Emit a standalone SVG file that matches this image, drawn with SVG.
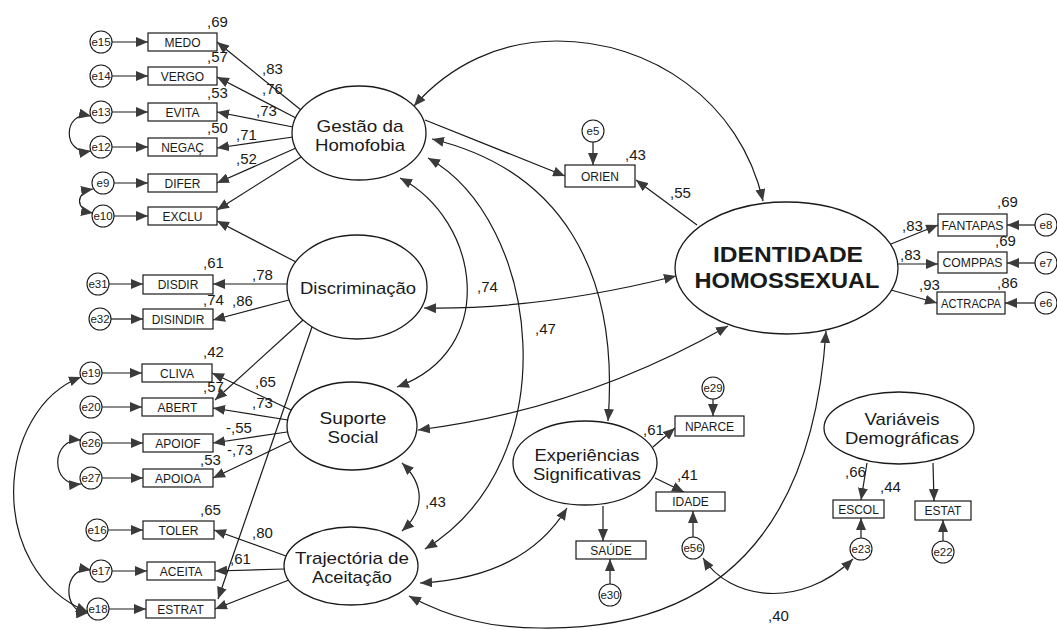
<svg xmlns="http://www.w3.org/2000/svg" width="1057" height="630" viewBox="0 0 1057 630">
<defs>
<marker id="ah" viewBox="0 0 12 10" refX="12" refY="5" markerWidth="12" markerHeight="10" markerUnits="userSpaceOnUse" orient="auto-start-reverse"><path d="M0,0 L12,5 L0,10 z" fill="#3a3a3a"/></marker>
<style>
.c{fill:none;stroke:#1a1a1a;stroke-width:1.2}
.s{marker-end:url(#ah)}
.d{marker-start:url(#ah);marker-end:url(#ah)}
.bx{fill:#fff;stroke:#1a1a1a;stroke-width:1.2}
.el{fill:#fff;stroke:#1a1a1a;stroke-width:1.3}
.er{fill:#fff;stroke:#1a1a1a;stroke-width:1.1}
text{font-family:"Liberation Sans",Arial,sans-serif;fill:#1a1a1a}
.bt{font-size:12px;text-anchor:middle}
.et{font-size:11.5px;text-anchor:middle}
.lt{font-size:17px;text-anchor:middle}
.id{font-size:22.5px;font-weight:bold;text-anchor:middle}
.n{font-size:15px}
</style>
</defs>
<rect width="1057" height="630" fill="#fff"/>

<g id="connectors">
<!-- Gestão indicators -->
<path class="c s" d="M301 110 L217 42"/>
<path class="c s" d="M296 118 L217 77"/>
<path class="c s" d="M293 127 L217 112"/>
<path class="c s" d="M293 137 L217 148"/>
<path class="c s" d="M296 148 L217 183"/>
<path class="c s" d="M301 157 L217 210"/>
<!-- Discriminação -->
<path class="c s" d="M287 284 L213 284"/>
<path class="c s" d="M289 300 L213 320"/>
<path class="c s" d="M296 262 L217 221"/>
<path class="c s" d="M303 320 L215 400"/>
<path class="c s" d="M312 327 L218 599"/>
<!-- Suporte -->
<path class="c s" d="M291 410 L212 373"/>
<path class="c s" d="M288 420 L213 408"/>
<path class="c s" d="M287 432 L213 443"/>
<path class="c s" d="M291 441 L213 478"/>
<!-- Trajectória -->
<path class="c s" d="M286 556 L214 530"/>
<path class="c s" d="M284 569 L215 571"/>
<path class="c s" d="M289 580 L215 609"/>
<!-- error arrows left -->
<path class="c s" d="M112 42 L148 42"/>
<path class="c s" d="M112 76 L148 76"/>
<path class="c s" d="M112 112 L148 112"/>
<path class="c s" d="M112 147 L148 147"/>
<path class="c s" d="M114 183 L148 183"/>
<path class="c s" d="M114 216 L148 216"/>
<path class="c s" d="M109 284 L143 284"/>
<path class="c s" d="M111 319 L143 319"/>
<path class="c s" d="M102 373 L142 373"/>
<path class="c s" d="M102 407 L142 407"/>
<path class="c s" d="M102 443 L143 443"/>
<path class="c s" d="M102 478 L143 478"/>
<path class="c s" d="M108 530 L143 530"/>
<path class="c s" d="M112 571 L147 571"/>
<path class="c s" d="M109 609 L146 609"/>
<!-- error covariances left -->
<path class="c d" d="M91 116 C62 110 62 156 91 151"/>
<path class="c d" d="M93 189 C75 192 75 210 93 213"/>
<path class="c d" d="M81 440 C50 438 50 487 81 484"/>
<path class="c d" d="M91 570 C62 565 62 614 88 613"/>
<path class="c d" d="M81 377 C-5 410 -15 570 88 612"/>
<!-- ORIEN -->
<path class="c s" d="M425 120 L565 176"/>
<path class="c s" d="M697 225 L636 180"/>
<path class="c s" d="M593 142 L593 165"/>
<!-- latent covariances -->
<path class="c d" d="M414 106 C450 65 500 41 557 41 C650 41 740 100 763 201"/>
<path class="c d" d="M432 139 C560 170 620 270 608 421"/>
<path class="c d" d="M428 158 C540 220 570 460 425 549"/>
<path class="c d" d="M400 178 C480 220 500 350 397 387"/>
<path class="c d" d="M424 308 Q540 310 676 276"/>
<path class="c d" d="M418 430 Q580 410 728 326"/>
<path class="c d" d="M402 463 C425 485 425 510 402 531"/>
<path class="c d" d="M420 583 C480 580 535 560 567 508"/>
<path class="c d" d="M409 596 C450 618 490 628 540 628 C680 630 810 570 826 331"/>
<path class="c d" d="M703 558 C730 600 800 610 853 559"/>
<!-- IDENTIDADE indicators -->
<path class="c s" d="M891 244 L938 225"/>
<path class="c s" d="M898 264 L938 264"/>
<path class="c s" d="M891 290 L937 303"/>
<path class="c s" d="M1035 225 L1007 225"/>
<path class="c s" d="M1035 263 L1007 263"/>
<path class="c s" d="M1035 303 L1005 303"/>
<!-- Experiências -->
<path class="c s" d="M653 447 L675 428"/>
<path class="c s" d="M655 478 L684 492"/>
<path class="c s" d="M603 506 L603 541"/>
<path class="c s" d="M610 584 L610 559"/>
<path class="c s" d="M713 399 L713 416"/>
<path class="c s" d="M693 537 L693 511"/>
<!-- Demográficas -->
<path class="c s" d="M867 463 L861 500"/>
<path class="c s" d="M933 463 L934 501"/>
<path class="c s" d="M861 538 L861 518"/>
<path class="c s" d="M943 541 L943 520"/>
</g>

<g id="latent-gestao"><ellipse class="el" cx="359" cy="133" rx="67" ry="47"/><text class="lt" x="360" y="132" textLength="87" lengthAdjust="spacingAndGlyphs">Gestão da</text><text class="lt" x="360" y="151" textLength="90" lengthAdjust="spacingAndGlyphs">Homofobia</text></g>
<g id="latent-discriminacao"><ellipse class="el" cx="357" cy="287" rx="70" ry="52"/><text class="lt" x="358" y="294" textLength="116" lengthAdjust="spacingAndGlyphs">Discriminação</text></g>
<g id="latent-suporte"><ellipse class="el" cx="352" cy="426" rx="65" ry="44"/><text class="lt" x="353" y="424" textLength="67" lengthAdjust="spacingAndGlyphs">Suporte</text><text class="lt" x="353" y="443" textLength="51" lengthAdjust="spacingAndGlyphs">Social</text></g>
<g id="latent-trajectoria"><ellipse class="el" cx="351" cy="566" rx="67" ry="39"/><text class="lt" x="352" y="564" textLength="114" lengthAdjust="spacingAndGlyphs">Trajectória de</text><text class="lt" x="352" y="583" textLength="80" lengthAdjust="spacingAndGlyphs">Aceitação</text></g>
<g id="latent-identidade"><ellipse class="el" cx="786.5" cy="268" rx="111.5" ry="66"/><text class="id" x="788" y="262" textLength="150" lengthAdjust="spacingAndGlyphs">IDENTIDADE</text><text class="id" x="787" y="288" textLength="185" lengthAdjust="spacingAndGlyphs">HOMOSSEXUAL</text></g>
<g id="latent-experiencias"><ellipse class="el" cx="585" cy="463" rx="72" ry="42"/><text class="lt" x="587" y="461" textLength="105" lengthAdjust="spacingAndGlyphs">Experiências</text><text class="lt" x="587" y="480" textLength="108" lengthAdjust="spacingAndGlyphs">Significativas</text></g>
<g id="latent-demograficas"><ellipse class="el" cx="899" cy="428" rx="75" ry="36"/><text class="lt" x="902" y="425" textLength="75" lengthAdjust="spacingAndGlyphs">Variáveis</text><text class="lt" x="902" y="444" textLength="114" lengthAdjust="spacingAndGlyphs">Demográficas</text></g>

<g id="obs-medo"><rect class="bx" x="148" y="33" width="69" height="18"/><text class="bt" x="182.5" y="46.5">MEDO</text></g>
<g id="obs-vergo"><rect class="bx" x="148" y="67" width="69" height="18"/><text class="bt" x="182.5" y="80.5">VERGO</text></g>
<g id="obs-evita"><rect class="bx" x="148" y="103" width="69" height="18"/><text class="bt" x="182.5" y="116.5">EVITA</text></g>
<g id="obs-negac"><rect class="bx" x="148" y="138" width="69" height="18"/><text class="bt" x="182.5" y="151.5">NEGAÇ</text></g>
<g id="obs-difer"><rect class="bx" x="148" y="174" width="69" height="18"/><text class="bt" x="182.5" y="187.5">DIFER</text></g>
<g id="obs-exclu"><rect class="bx" x="148" y="207" width="69" height="18"/><text class="bt" x="182.5" y="220.5">EXCLU</text></g>
<g id="obs-disdir"><rect class="bx" x="143" y="275" width="70" height="19"/><text class="bt" x="178" y="289">DISDIR</text></g>
<g id="obs-disindir"><rect class="bx" x="143" y="309" width="70" height="20"/><text class="bt" x="178" y="323.5">DISINDIR</text></g>
<g id="obs-cliva"><rect class="bx" x="142" y="364" width="70" height="18"/><text class="bt" x="177" y="377.5">CLIVA</text></g>
<g id="obs-abert"><rect class="bx" x="142" y="398" width="71" height="18"/><text class="bt" x="177.5" y="411.5">ABERT</text></g>
<g id="obs-apoiof"><rect class="bx" x="143" y="434" width="70" height="18"/><text class="bt" x="178" y="447.5">APOIOF</text></g>
<g id="obs-apoioa"><rect class="bx" x="143" y="469" width="70" height="18"/><text class="bt" x="178" y="482.5">APOIOA</text></g>
<g id="obs-toler"><rect class="bx" x="143" y="521" width="71" height="18"/><text class="bt" x="178.5" y="534.5">TOLER</text></g>
<g id="obs-aceita"><rect class="bx" x="147" y="562" width="68" height="18"/><text class="bt" x="181" y="575.5">ACEITA</text></g>
<g id="obs-estrat"><rect class="bx" x="146" y="600" width="69" height="18"/><text class="bt" x="180.5" y="613.5">ESTRAT</text></g>
<g id="obs-orien"><rect class="bx" x="565" y="165" width="70" height="22"/><text class="bt" x="600" y="180.5">ORIEN</text></g>
<g id="obs-fantapas"><rect class="bx" x="938" y="214" width="69" height="22"/><text class="bt" x="972.5" y="229.5" textLength="62" lengthAdjust="spacingAndGlyphs">FANTAPAS</text></g>
<g id="obs-comppas"><rect class="bx" x="938" y="252" width="69" height="21"/><text class="bt" x="972.5" y="267" textLength="60" lengthAdjust="spacingAndGlyphs">COMPPAS</text></g>
<g id="obs-actracpa"><rect class="bx" x="937" y="292" width="68" height="22"/><text class="bt" x="971" y="307.5" textLength="60" lengthAdjust="spacingAndGlyphs">ACTRACPA</text></g>
<g id="obs-nparce"><rect class="bx" x="675" y="416" width="69" height="20"/><text class="bt" x="709.5" y="430.5">NPARCE</text></g>
<g id="obs-idade"><rect class="bx" x="656" y="492" width="69" height="19"/><text class="bt" x="690.5" y="506">IDADE</text></g>
<g id="obs-saude"><rect class="bx" x="576" y="541" width="70" height="18"/><text class="bt" x="611" y="554.5">SAÚDE</text></g>
<g id="obs-escol"><rect class="bx" x="833" y="500" width="51" height="18"/><text class="bt" x="858.5" y="513.5">ESCOL</text></g>
<g id="obs-estat"><rect class="bx" x="915" y="501" width="56" height="19"/><text class="bt" x="943" y="515">ESTAT</text></g>

<g id="err-e15"><circle class="er" cx="101" cy="42" r="11"/><text class="et" x="101" y="46">e15</text></g>
<g id="err-e14"><circle class="er" cx="101" cy="76" r="11"/><text class="et" x="101" y="80">e14</text></g>
<g id="err-e13"><circle class="er" cx="101" cy="112" r="11"/><text class="et" x="101" y="116">e13</text></g>
<g id="err-e12"><circle class="er" cx="101" cy="147" r="11"/><text class="et" x="101" y="151">e12</text></g>
<g id="err-e9"><circle class="er" cx="103" cy="183" r="11"/><text class="et" x="103" y="187">e9</text></g>
<g id="err-e10"><circle class="er" cx="103" cy="216" r="11"/><text class="et" x="103" y="220">e10</text></g>
<g id="err-e31"><circle class="er" cx="98" cy="284" r="11"/><text class="et" x="98" y="288">e31</text></g>
<g id="err-e32"><circle class="er" cx="100" cy="319" r="11"/><text class="et" x="100" y="323">e32</text></g>
<g id="err-e19"><circle class="er" cx="91" cy="373" r="11"/><text class="et" x="91" y="377">e19</text></g>
<g id="err-e20"><circle class="er" cx="91" cy="407" r="11"/><text class="et" x="91" y="411">e20</text></g>
<g id="err-e26"><circle class="er" cx="91" cy="443" r="11"/><text class="et" x="91" y="447">e26</text></g>
<g id="err-e27"><circle class="er" cx="91" cy="478" r="11"/><text class="et" x="91" y="482">e27</text></g>
<g id="err-e16"><circle class="er" cx="97" cy="530" r="11"/><text class="et" x="97" y="534">e16</text></g>
<g id="err-e17"><circle class="er" cx="101" cy="571" r="11"/><text class="et" x="101" y="575">e17</text></g>
<g id="err-e18"><circle class="er" cx="98" cy="609" r="11"/><text class="et" x="98" y="613">e18</text></g>
<g id="err-e5"><circle class="er" cx="593" cy="131" r="11"/><text class="et" x="593" y="135">e5</text></g>
<g id="err-e29"><circle class="er" cx="713" cy="388" r="11"/><text class="et" x="713" y="392">e29</text></g>
<g id="err-e56"><circle class="er" cx="693" cy="548" r="11"/><text class="et" x="693" y="552">e56</text></g>
<g id="err-e30"><circle class="er" cx="610" cy="595" r="11"/><text class="et" x="610" y="599">e30</text></g>
<g id="err-e23"><circle class="er" cx="861" cy="549" r="11"/><text class="et" x="861" y="553">e23</text></g>
<g id="err-e22"><circle class="er" cx="943" cy="552" r="11"/><text class="et" x="943" y="556">e22</text></g>
<g id="err-e8"><circle class="er" cx="1046" cy="225" r="11"/><text class="et" x="1046" y="229">e8</text></g>
<g id="err-e7"><circle class="er" cx="1046" cy="263" r="11"/><text class="et" x="1046" y="267">e7</text></g>
<g id="err-e6"><circle class="er" cx="1046" cy="303" r="11"/><text class="et" x="1046" y="307">e6</text></g>

<g id="coefficients">
<text class="n" x="207" y="27">,69</text>
<text class="n" x="262" y="74">,83</text>
<text class="n" x="207" y="62">,57</text>
<text class="n" x="262" y="94">,76</text>
<text class="n" x="207" y="98">,53</text>
<text class="n" x="256" y="116">,73</text>
<text class="n" x="207" y="133">,50</text>
<text class="n" x="236" y="140">,71</text>
<text class="n" x="236" y="164">,52</text>
<text class="n" x="203" y="268">,61</text>
<text class="n" x="252" y="280">,78</text>
<text class="n" x="203" y="305">,74</text>
<text class="n" x="232" y="306">,86</text>
<text class="n" x="203" y="357">,42</text>
<text class="n" x="255" y="387">,65</text>
<text class="n" x="203" y="392">,57</text>
<text class="n" x="252" y="408">,73</text>
<text class="n" x="226" y="433">-,55</text>
<text class="n" x="227" y="455">-,73</text>
<text class="n" x="200" y="465">,53</text>
<text class="n" x="200" y="515">,65</text>
<text class="n" x="252" y="538">,80</text>
<text class="n" x="230" y="564">,61</text>
<text class="n" x="625" y="160">,43</text>
<text class="n" x="670" y="198">,55</text>
<text class="n" x="477" y="292">,74</text>
<text class="n" x="535" y="334">,47</text>
<text class="n" x="425" y="507">,43</text>
<text class="n" x="643" y="435">,61</text>
<text class="n" x="677" y="480">,41</text>
<text class="n" x="768" y="621">,40</text>
<text class="n" x="845" y="477">,66</text>
<text class="n" x="880" y="492">,44</text>
<text class="n" x="902" y="231">,83</text>
<text class="n" x="900" y="260">,83</text>
<text class="n" x="919" y="290">,93</text>
<text class="n" x="997" y="207">,69</text>
<text class="n" x="995" y="246">,69</text>
<text class="n" x="997" y="288">,86</text>
</g>
</svg>
